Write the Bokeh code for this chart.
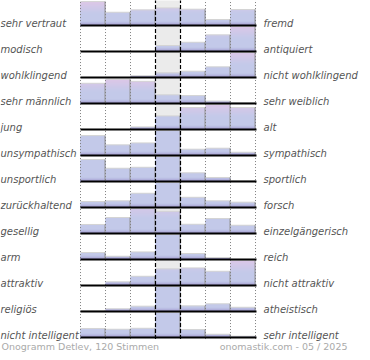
import numpy as np
from bokeh.plotting import figure
from bokeh.models import Range1d, ColumnDataSource
from bokeh.core.properties import value
from bokeh.embed import file_html
from bokeh.resources import INLINE

# ---------------- data ----------------
left_labels = ["sehr vertraut", "modisch", "wohlklingend", "sehr männlich", " jung",
               "unsympathisch", "unsportlich", "zurückhaltend", "gesellig", "arm",
               "attraktiv", "religiös", "nicht intelligent"]
right_labels = ["fremd", "antiquiert", "nicht wohlklingend", "sehr weiblich", "alt",
                "sympathisch", "sportlich", "forsch", "einzelgängerisch", "reich",
                "nicht attraktiv", "atheistisch", "sehr intelligent"]

# percentage of votes per answer (7-step scale), one list per row
row_vertraut      = [22.0, 12.2, 14.4, 16.2, 15.0, 5.5, 14.7]
row_modisch       = [0.0, 0.0, 0.0, 5.5, 8.5, 15.3, 24.0]
row_wohlklingend  = [0.0, 0.0, 1.6, 4.3, 5.8, 9.8, 24.0]
row_maennlich     = [18.6, 22.3, 20.4, 8.0, 7.3, 2.3, 0.8]
row_jung          = [0.0, 0.0, 2.4, 12.5, 20.2, 24.0, 20.2]
row_unsympathisch = [18.3, 9.8, 11.6, 45.0, 5.8, 6.7, 3.0]
row_unsportlich   = [20.2, 12.2, 13.1, 42.0, 8.0, 3.7, 0.9]
row_zurueck       = [5.5, 6.1, 13.1, 55.0, 9.4, 6.1, 4.9]
row_gesellig      = [8.3, 14.7, 28.0, 20.4, 8.5, 13.8, 7.6]
row_arm           = [6.4, 3.0, 7.0, 76.0, 5.5, 1.8, 0.0]
row_attraktiv     = [0.0, 3.4, 8.5, 15.3, 16.2, 13.1, 24.0]
row_religioes     = [0.9, 2.5, 4.9, 75.0, 5.2, 7.1, 3.9]
row_intelligent   = [8.3, 7.6, 8.5, 64.0, 7.3, 3.0, 1.2]

rows = [row_vertraut, row_modisch, row_wohlklingend, row_maennlich, row_jung,
        row_unsympathisch, row_unsportlich, row_zurueck, row_gesellig, row_arm,
        row_attraktiv, row_religioes, row_intelligent]

ROW_MAX = 23.0   # percentage that fills a full row
footer_left = "Onogramm Detlev, 120 Stimmen"
footer_right = "onomastik.com - 05 / 2025"

# ---------------- layout ----------------
W, H = 362, 352
PX_COL = 25
PX_ROW = 26
BAR_PX = 25
LEFT = 80
TOP = 25
n = len(rows)
last_base_px = TOP + (n - 1) * PX_ROW
x_start = -LEFT / PX_COL
x_end = (W - LEFT) / PX_COL
y_end = last_base_px / PX_ROW
y_start = -(H - last_base_px) / PX_ROW

p = figure(width=W, height=H, output_backend="svg", toolbar_location=None,
           x_range=Range1d(x_start, x_end), y_range=Range1d(y_start, y_end),
           min_border=0, outline_line_color=None, background_fill_color="white",
           border_fill_color="white")
p.axis.visible = False
p.grid.visible = False

# middle column background
p.quad(left=[3], right=[4], bottom=[0], top=[n], fill_color="#ebebeb", line_color=None)

blue = np.array([195, 201, 233])
pink = np.array([221, 199, 231])
purple = np.array([150, 140, 200])

def col_hex(c):
    c = np.clip(np.round(c), 0, 255).astype(int)
    return "#%02x%02x%02x" % tuple(c)

bands = []
tops = dict(x0=[], x1=[], y=[])
edges = dict(x=[], y0=[], y1=[])
for i, r in enumerate(rows):
    base = n - 1 - i
    span = max(r) / ROW_MAX
    for c, v in enumerate(r):
        hpx = min(v / ROW_MAX, 1.0) * BAR_PX
        if hpx <= 0:
            continue
        npx = int(np.ceil(hpx - 1e-9))
        for k in range(npx):
            pos = k + 0.5
            f = pos / BAR_PX / span
            t = np.clip((f - 0.5) / 0.5, 0, 1)
            col = blue * (1 - t) + pink * t
            d = np.clip(1 - pos / 4.0, 0, 1) * 0.8
            col = col * (1 - d) + purple * d
            btop = base + min(k + 1, hpx) / PX_ROW
            bands.append((k, c, c + 1, base, btop, col_hex(col)))
        tops["x0"].append(c); tops["x1"].append(c + 1); tops["y"].append(base + hpx / PX_ROW)
        edges["x"].append(c + 1 - 0.5 / PX_COL); edges["y0"].append(base); edges["y1"].append(base + hpx / PX_ROW)

bands.sort(key=lambda b: -b[0])
bsrc = ColumnDataSource(dict(l=[b[1] for b in bands], r=[b[2] for b in bands],
                             b=[b[3] for b in bands], t=[b[4] for b in bands],
                             c=[b[5] for b in bands]))
p.quad(left="l", right="r", bottom="b", top="t", fill_color="c", line_color=None, source=bsrc)

# bar top highlight and right edge
p.segment(x0=tops["x0"], x1=tops["x1"], y0=tops["y"], y1=tops["y"],
          line_color="#d4d4d4", line_width=1)
p.segment(x0=edges["x"], x1=edges["x"], y0=edges["y0"], y1=edges["y1"],
          line_color="#949494", line_width=1)

# dotted column lines
dx = [0, 1, 2, 5, 6, 7]
p.segment(x0=dx, x1=dx, y0=[-0.06] * len(dx), y1=[n] * len(dx),
          line_color="#808080", line_width=1, line_dash="1 2")
# dashed middle lines
mx = [3, 4]
p.segment(x0=mx, x1=mx, y0=[-0.06] * 2, y1=[n] * 2,
          line_color="black", line_width=1.2, line_dash="4 2")

# row baselines
bases = [n - 1 - i for i in range(n)]
p.segment(x0=[0] * n, x1=[7.04] * n, y0=bases, y1=bases, line_color="black", line_width=2)

# labels
lab_y = [b + 2.5 / PX_ROW for b in bases]
p.text(x=[x_start] * n, y=lab_y, text=left_labels, text_font=value("DejaVu Sans"),
       text_font_style="italic", text_font_size="10px", text_color="#555555",
       text_align="left", text_baseline="alphabetic")
p.text(x=[7] * n, y=lab_y, text=right_labels, text_font=value("DejaVu Sans"),
       text_font_style="italic", text_font_size="10px", text_color="#555555",
       text_align="left", text_baseline="alphabetic", x_offset=8)

# footer
fy = -(H - 1 - last_base_px) / PX_ROW
p.text(x=[x_start], y=[fy], text=[footer_left], text_font=value("DejaVu Sans"),
       text_font_size="9.5px", text_color="#aaaaaa", text_align="left",
       text_baseline="bottom", x_offset=1)
p.text(x=[x_start + 347 / PX_COL], y=[fy], text=[footer_right], text_font=value("DejaVu Sans"),
       text_font_size="9.5px", text_color="#aaaaaa", text_align="right",
       text_baseline="bottom")

open("out.html", "w").write(file_html(p, INLINE))
